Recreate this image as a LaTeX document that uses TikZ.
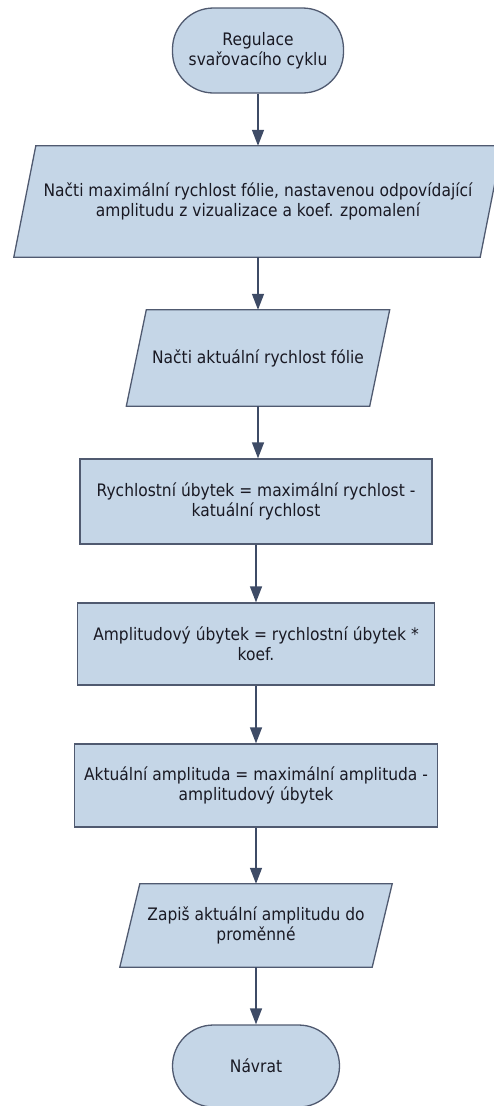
\documentclass[tikz,border=0pt]{standalone}
\usepackage{fontspec}
\setmainfont[FakeStretch=0.9]{DejaVu Sans}
\usetikzlibrary{arrows.meta,backgrounds}
\definecolor{boxfill}{RGB}{197,214,231}
\definecolor{boxline}{RGB}{80,90,112}
\definecolor{arrowcol}{RGB}{62,75,102}
\definecolor{txtcol}{RGB}{25,25,35}
\begin{document}
\begin{tikzpicture}[x=1pt,y=-1pt,
  every node/.style={font=\fontsize{17.2}{20}\selectfont, text=txtcol, align=center, inner sep=0pt},
  shapeline/.style={draw=boxline, line width=1.3pt, fill=boxfill},
  termbox/.style={shapeline, rectangle, rounded corners=41pt},
  procbox/.style={shapeline, rectangle},
  iobox/.style={rectangle},
  flowarrow/.style={draw=arrowcol, line width=1.4pt, -{Triangle[length=16pt,width=12pt]}}
]
\useasboundingbox (0,0) rectangle (493,1106);
% nodes
\node[termbox, minimum width=171pt, minimum height=85pt] (t1) at (258,50.5) {Regulace\\svařovacího cyklu};
\node[iobox, minimum width=466pt, minimum height=111pt] (p1) at (258,201.5) {Načti maximální rychlost fólie, nastavenou odpovídající\\amplitudu z vizualizace a koef. zpomalení};
\node[iobox, minimum width=243pt, minimum height=96pt] (p2) at (258,358) {Načti aktuální rychlost fólie};
\node[procbox, minimum width=352pt, minimum height=85pt] (r1) at (256,501.5) {Rychlostní úbytek = maximální rychlost -\\katuální rychlost};
\node[procbox, minimum width=357pt, minimum height=82pt] (r2) at (256,644) {Amplitudový úbytek = rychlostní úbytek *\\koef.};
\node[procbox, minimum width=363pt, minimum height=83pt] (r3) at (256,785.5) {Aktuální amplituda = maximální amplituda -\\amplitudový úbytek};
\node[iobox, minimum width=252pt, minimum height=83pt] (p3) at (256,925.5) {Zapiš aktuální amplitudu do\\proměnné};
\node[termbox, minimum width=167pt, minimum height=82pt] (t2) at (256,1066) {Návrat};
% parallelogram outlines
\begin{scope}[on background layer]
\foreach \n/\s in {p1/11,p2/10,p3/10}{
  \draw[shapeline] ([xshift=-\s pt]\n.south west) -- ([xshift=-\s pt]\n.south east)
    -- ([xshift=\s pt]\n.north east) -- ([xshift=\s pt]\n.north west) -- cycle;
}
\end{scope}
% connectors
\draw[flowarrow] (t1.south) -- (t1.south |- p1.north);
\draw[flowarrow] (p1.south) -- (p1.south |- p2.north);
\draw[flowarrow] (p2.south) -- (p2.south |- r1.north);
\draw[flowarrow] (r1.south) -- (r1.south |- r2.north);
\draw[flowarrow] (r2.south) -- (r2.south |- r3.north);
\draw[flowarrow] (r3.south) -- (r3.south |- p3.north);
\draw[flowarrow] (p3.south) -- (p3.south |- t2.north);
\end{tikzpicture}
\end{document}
